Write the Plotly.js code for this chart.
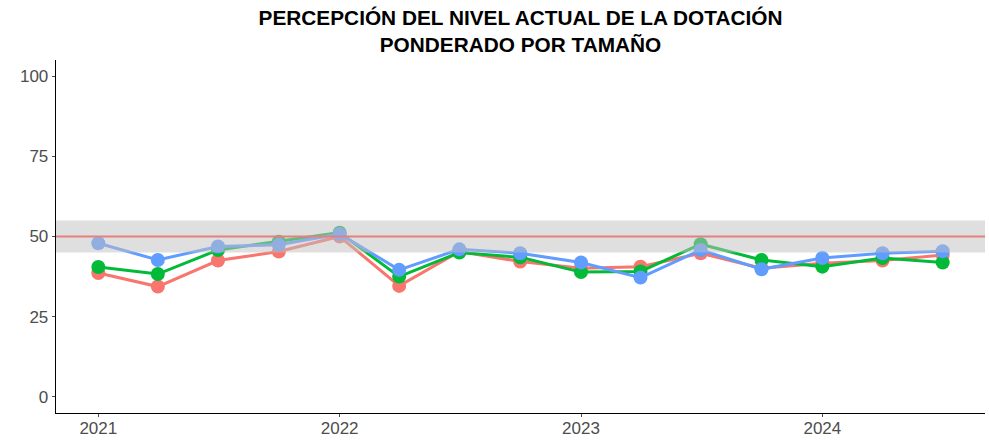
<!DOCTYPE html>
<html>
<head>
<meta charset="utf-8">
<script src="https://cdn.plot.ly/plotly-3.0.1.min.js"></script>
<style>html,body{margin:0;padding:0;background:#fff}#chart{width:989px;height:440px}</style>
</head>
<body>
<div id="chart"></div>
<script>
const fechas = ['2021-01-01','2021-04-01','2021-07-01','2021-10-01','2022-01-01','2022-04-01','2022-07-01','2022-10-01','2023-01-01','2023-04-01','2023-07-01','2023-10-01','2024-01-01','2024-04-01','2024-07-01'];
const serieRoja  = [38.6, 34.4, 42.5, 45.3, 50.0, 34.6, 45.3, 42.2, 40.1, 40.6, 44.8, 40.1, 41.7, 42.5, 44.2];
const serieVerde = [40.5, 38.3, 45.8, 48.4, 51.2, 37.5, 45.0, 43.5, 38.9, 39.1, 47.6, 42.7, 40.6, 43.3, 41.9];
const serieAzul  = [47.9, 42.7, 46.9, 47.4, 50.8, 39.6, 46.0, 44.8, 41.9, 37.2, 45.8, 39.8, 43.3, 44.8, 45.4];
const bandaMin = 45, bandaMax = 55, referencia = 50;
const yTicks = [0, 25, 50, 75, 100];
const xTicks = ['2021-01-01','2022-01-01','2023-01-01','2024-01-01'];
const xTickText = ['2021','2022','2023','2024'];

function serie(y, color) {
  return {x: fechas, y: y, type: 'scatter', mode: 'lines+markers',
    line: {color: color, width: 3}, marker: {color: color, size: 14}, hoverinfo: 'skip'};
}
const data = [serie(serieRoja, '#F8766D'), serie(serieVerde, '#00BA38'), serie(serieAzul, '#619CFF')];
const tickFont = {family: 'Liberation Sans, Arial, sans-serif', size: 17, color: '#4D4D4D'};
const layout = {
  width: 989, height: 440,
  margin: {l: 56, r: 4, t: 60, b: 27},
  paper_bgcolor: '#fff', plot_bgcolor: '#fff', showlegend: false,
  title: {text: '<b>PERCEPCIÓN DEL NIVEL ACTUAL DE LA DOTACIÓN</b><br><b>PONDERADO POR TAMAÑO</b>',
    font: {family: 'Liberation Sans, Arial, sans-serif', size: 20.8, color: '#000'},
    x: 0.5, xref: 'paper', xanchor: 'center', y: 0.943, yref: 'container', yanchor: 'middle'},
  xaxis: {type: 'date', range: ['2020-10-29', '2024-09-03'], tickvals: xTicks, ticktext: xTickText,
    showgrid: false, zeroline: false, showline: true, linecolor: '#000', linewidth: 1.3,
    ticks: 'outside', ticklen: 3, tickcolor: '#4D4D4D', tickfont: tickFont, ticklabelstandoff: -4},
  yaxis: {range: [-5, 105], tickvals: yTicks, showgrid: false, zeroline: false, showline: true,
    linecolor: '#000', linewidth: 1.3, ticks: 'outside', ticklen: 3, tickcolor: '#4D4D4D', tickfont: tickFont},
  shapes: [
    {type: 'rect', xref: 'paper', yref: 'y', x0: 0, x1: 1, y0: bandaMin, y1: bandaMax,
      fillcolor: 'rgba(191,191,191,0.5)', line: {width: 0}, layer: 'above'},
    {type: 'line', xref: 'paper', yref: 'y', x0: 0, x1: 1, y0: referencia, y1: referencia,
      line: {color: 'rgb(229,128,128)', width: 2}, layer: 'above'}
  ]
};
Plotly.newPlot('chart', data, layout, {displayModeBar: false, staticPlot: true});
</script>
</body>
</html>
